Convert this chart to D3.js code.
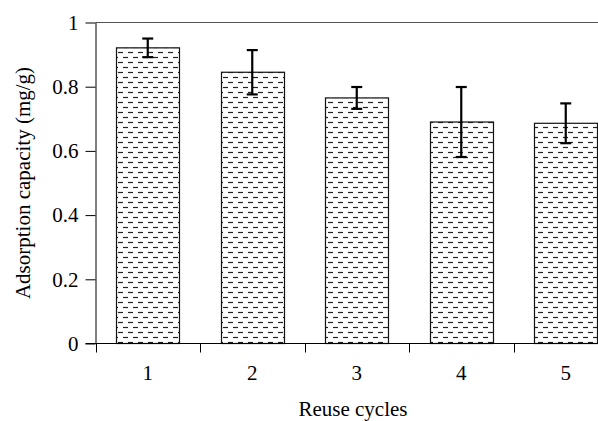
<!DOCTYPE html>
<html>
<head>
<meta charset="utf-8">
<script src="https://cdn.jsdelivr.net/npm/d3@7"></script>
<style>
  body { margin: 0; background: #fff; }
  text { font-family: "Liberation Serif", "Times New Roman", serif; }
</style>
</head>
<body>
<div id="chart"></div>
<script>
// data
var cycles = ["1", "2", "3", "4", "5"];
var capacity = [0.921, 0.845, 0.765, 0.690, 0.686];
var errors = [0.029, 0.069, 0.034, 0.109, 0.062];
var yTicks = [0, 0.2, 0.4, 0.6, 0.8, 1];

var W = 598, H = 421;
var plotLeft = 95.5, plotTop = 22.5, plotBottom = 343.5,
    plotRight = 618; // plot runs past the picture edge

var svg = d3.select("#chart").append("svg")
    .attr("width", W)
    .attr("height", H);

// pattern of staggered short dashes
var defs = svg.append("defs");
var pat = defs.append("pattern")
    .attr("id", "dashes")
    .attr("patternUnits", "userSpaceOnUse")
    .attr("width", 10)
    .attr("height", 10)
    .attr("x", 118).attr("y", 0);
pat.append("rect").attr("width", 10).attr("height", 10).attr("fill", "#fff");
pat.append("line").attr("x1", 0).attr("x2", 5).attr("y1", 2.5).attr("y2", 2.5)
    .attr("stroke", "#222").attr("stroke-width", 1.2);
pat.append("line").attr("x1", 5).attr("x2", 10).attr("y1", 7.5).attr("y2", 7.5)
    .attr("stroke", "#222").attr("stroke-width", 1.2);

var x = d3.scaleBand()
    .domain(cycles)
    .range([plotLeft, plotRight])
    .paddingInner(0.4)
    .paddingOuter(0.2);

var xEdge = d3.scaleLinear().domain([0, cycles.length]).range([plotLeft, plotRight]);

var y = d3.scaleLinear().domain([0, 1]).range([plotBottom, plotTop]);

// top frame line
svg.append("line")
    .attr("x1", plotLeft).attr("x2", W)
    .attr("y1", plotTop).attr("y2", plotTop)
    .attr("stroke", "#555").attr("stroke-width", 1);

// bars
svg.selectAll(".bar")
    .data(capacity)
  .enter().append("rect")
    .attr("class", "bar")
    .attr("x", function(d, i) { return Math.round(x(cycles[i])) + 0.5; })
    .attr("width", Math.round(x.bandwidth()))
    .attr("y", function(d) { return y(d); })
    .attr("height", function(d) { return plotBottom - y(d); })
    .attr("fill", "url(#dashes)")
    .attr("stroke", "#111")
    .attr("stroke-width", 1.2);

// error bars
var err = svg.selectAll(".err")
    .data(capacity)
  .enter().append("g")
    .attr("class", "err")
    .attr("stroke", "#000")
    .attr("stroke-width", 2.2);
function cx(i) { return x(cycles[i]) + x.bandwidth() / 2; }
err.append("line")
    .attr("x1", function(d, i) { return cx(i); })
    .attr("x2", function(d, i) { return cx(i); })
    .attr("y1", function(d, i) { return y(d + errors[i]); })
    .attr("y2", function(d, i) { return y(d - errors[i]); });
err.append("line")
    .attr("x1", function(d, i) { return cx(i) - 5.5; })
    .attr("x2", function(d, i) { return cx(i) + 5.5; })
    .attr("y1", function(d, i) { return y(d + errors[i]); })
    .attr("y2", function(d, i) { return y(d + errors[i]); });
err.append("line")
    .attr("x1", function(d, i) { return cx(i) - 5.5; })
    .attr("x2", function(d, i) { return cx(i) + 5.5; })
    .attr("y1", function(d, i) { return y(d - errors[i]); })
    .attr("y2", function(d, i) { return y(d - errors[i]); });

// y axis
var yAxis = svg.append("g")
    .attr("transform", "translate(" + plotLeft + ",0)")
    .call(d3.axisLeft(y)
        .tickValues(yTicks)
        .tickSize(10)
        .tickSizeOuter(0)
        .tickPadding(7)
        .tickFormat(d3.format("~g")));
yAxis.selectAll("text")
    .attr("font-size", 21)
    .attr("fill", "#000")
    .style("font-family", "'Liberation Serif', serif");
yAxis.selectAll("line, path").attr("stroke", "#000");

// x axis: line, ticks at category boundaries, labels at centres
svg.append("line")
    .attr("x1", plotLeft - 10).attr("x2", W)
    .attr("y1", plotBottom).attr("y2", plotBottom)
    .attr("stroke", "#000");
svg.selectAll(".xtick")
    .data(d3.range(cycles.length))
  .enter().append("line")
    .attr("class", "xtick")
    .attr("x1", function(d) { return Math.round(xEdge(d)) + 0.5; })
    .attr("x2", function(d) { return Math.round(xEdge(d)) + 0.5; })
    .attr("y1", plotBottom)
    .attr("y2", plotBottom + 9)
    .attr("stroke", "#000");
svg.selectAll(".xlab")
    .data(cycles)
  .enter().append("text")
    .attr("class", "xlab")
    .attr("x", function(d) { return x(d) + x.bandwidth() / 2; })
    .attr("y", 380)
    .attr("text-anchor", "middle")
    .attr("font-size", 21)
    .text(function(d) { return d; });

// axis titles
svg.append("text")
    .attr("x", 353)
    .attr("y", 416)
    .attr("text-anchor", "middle")
    .attr("font-size", 21)
    .text("Reuse cycles");

svg.append("text")
    .attr("transform", "translate(30," + ((plotTop + plotBottom) / 2) + ") rotate(-90)")
    .attr("text-anchor", "middle")
    .attr("font-size", 21)
    .text("Adsorption capacity (mg/g)");
</script>
</body>
</html>
